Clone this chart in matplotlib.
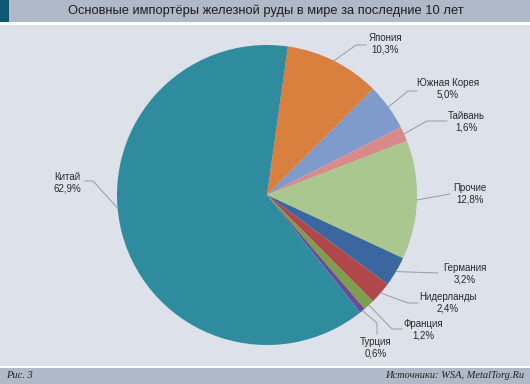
import matplotlib.pyplot as plt
import matplotlib.patches as patches
import numpy as np

# data
countries = ['Япония', 'Южная Корея', 'Тайвань', 'Прочие', 'Германия',
             'Нидерланды', 'Франция', 'Турция', 'Китай']
shares = [10.3, 5.0, 1.6, 12.8, 3.2, 2.4, 1.2, 0.6, 62.9]
colors = ['#D9803F', '#7E9BCB', '#D88A8A', '#A9C78F', '#3B67A0',
          '#B0474A', '#7D9F4B', '#6A4A9A', '#2E8C9E']

title = 'Основные импортёры железной руды в мире за последние 10 лет'
fig_note = 'Рис. 3'
source = 'Источники: WSA, MetalTorg.Ru'

W, H = 530, 384
CX, CY, R = 267, 195, 150
START = 82

# label layout in pixel coords: (elbow, line end, text center)
layout = {
    'Япония':      ((356, 45), (366, 45), (385, 44)),
    'Южная Корея': ((408, 91), (417, 91), (448, 89)),
    'Тайвань':     ((427, 121), (447, 121), (466, 122)),
    'Прочие':      ((450, 194), (450, 194), (470, 194)),
    'Германия':    ((438, 273), (438, 273), (465, 274)),
    'Нидерланды':  ((408, 303), (418, 303), (448, 303)),
    'Франция':     ((392, 329), (402, 329), (423, 330)),
    'Турция':      ((377, 323), (377, 334), (376, 348)),
    'Китай':       ((93, 181), (85, 181), (67, 183)),
}


def py(y):
    return H - y


fig = plt.figure(figsize=(W / 100, H / 100), dpi=100)
fig.patch.set_facecolor('#DDE1EA')
ax = fig.add_axes([0, 0, 1, 1])

wedges, _ = ax.pie(shares, colors=colors, startangle=START, counterclock=False,
                   center=(CX, py(CY)), radius=R, wedgeprops=dict(linewidth=0))

ax.set_xlim(0, W)
ax.set_ylim(0, H)
ax.set_aspect('equal')
ax.axis('off')

# header and footer bars
ax.add_patch(patches.Rectangle((0, py(22)), W, 22, facecolor='#B0B9C7', lw=0))
ax.add_patch(patches.Rectangle((0, py(22)), 9, 22, facecolor='#0E5874', lw=0))
ax.add_patch(patches.Rectangle((0, py(25)), W, 3, facecolor='white', lw=0))
ax.add_patch(patches.Rectangle((0, py(368)), W, 2, facecolor='white', lw=0))
ax.add_patch(patches.Rectangle((0, 0), W, H - 368, facecolor='#B0B9C7', lw=0))

ax.text(266, py(11), title, ha='center', va='center', fontsize=9.3,
        family='Liberation Sans', color='#1E1E1E')
ax.text(6, py(376), fig_note, ha='left', va='center', fontsize=7.5,
        family='Liberation Serif', style='italic', color='#222222')
ax.text(524, py(376), source, ha='right', va='center', fontsize=7.5,
        family='Liberation Serif', style='italic', color='#222222')

for w, name, val in zip(wedges, countries, shares):
    mid = np.deg2rad((w.theta1 + w.theta2) / 2)
    if name == 'Китай':
        mid = np.deg2rad(185)
    sx, sy = CX + R * np.cos(mid), py(CY) + R * np.sin(mid)
    elbow, end, txt = layout[name]
    ax.plot([sx, elbow[0], end[0]], [sy, py(elbow[1]), py(end[1])],
            color='#969BA2', lw=0.7)
    ax.text(txt[0], py(txt[1]), f'{name}\n{val:.1f}%'.replace('.', ','),
            ha='center', va='center', fontsize=7, linespacing=1.2,
            family='Liberation Sans', color='#2A2A2A')

fig.savefig('out.png', dpi=100, facecolor=fig.get_facecolor())
